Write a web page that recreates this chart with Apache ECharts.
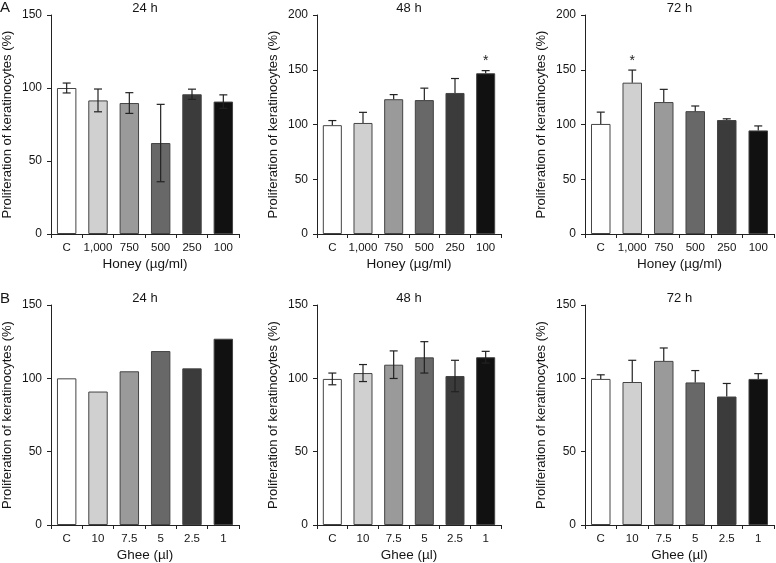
<!DOCTYPE html>
<html>
<head>
<meta charset="utf-8">
<script src="https://cdn.jsdelivr.net/npm/echarts@6/dist/echarts.min.js"></script>
<style>
html,body{margin:0;padding:0;background:#fff;}
#c{width:776px;height:563px;}
</style>
</head>
<body>
<div id="c"></div>
<script>
// ---- data ----
const honeyCats = ['C', '1,000', '750', '500', '250', '100'];
const gheeCats = ['C', '10', '7.5', '5', '2.5', '1'];
const panelTitles = ['24 h', '48 h', '72 h'];
const honeyAxisName = 'Honey (\u00b5g/ml)';
const gheeAxisName = 'Ghee (\u00b5l)';
const yAxisName = 'Proliferation of keratinocytes (%)';

const honey24 = [100, 91.5, 89.7, 62.3, 95.7, 90.7];
const honey24Err = [3.4, 7.8, 7.1, 26.5, 3.5, 4.6];
const honey48 = [99.4, 101.4, 123.1, 122.3, 128.8, 146.8];
const honey48Err = [4.2, 9.7, 4.2, 10.9, 13.2, 2.4];
const honey72 = [100.5, 138.2, 120.5, 112.2, 104.1, 94.6];
const honey72Err = [10.8, 11.5, 11.6, 4.7, 1.1, 4.1];
const ghee24 = [100, 91, 104.8, 118.6, 106.8, 127];
const ghee48 = [99.6, 103.6, 109.3, 114.3, 101.6, 114.4];
const ghee48Err = [4, 5.8, 9.4, 10.7, 10.7, 4];
const ghee72 = [99.6, 97.5, 111.9, 97.2, 87.6, 99.6];
const ghee72Err = [2.8, 14.8, 8.8, 8.1, 8.9, 3.6];

const honeyYMax = [150, 200, 200];
const gheeYMax = [150, 150, 150];
const honey48Sig = [0, 0, 0, 0, 0, 1];
const honey72Sig = [0, 1, 0, 0, 0, 0];

// ---- style ----
const barColors = ['#ffffff', '#d0d0d0', '#9a9a9a', '#686868', '#3b3b3b', '#111111'];
const font = 'Liberation Sans, Arial, sans-serif';
const textColor = '#151515';

const panels = [
  {cats: honeyCats, vals: honey24, err: honey24Err, both: true, sig: null, max: honeyYMax[0], name: honeyAxisName, title: panelTitles[0], left: 51, top: 15, width: 188, height: 219},
  {cats: honeyCats, vals: honey48, err: honey48Err, both: false, sig: honey48Sig, max: honeyYMax[1], name: honeyAxisName, title: panelTitles[1], left: 317, top: 15, width: 184, height: 219},
  {cats: honeyCats, vals: honey72, err: honey72Err, both: false, sig: honey72Sig, max: honeyYMax[2], name: honeyAxisName, title: panelTitles[2], left: 585, top: 15, width: 189, height: 219},
  {cats: gheeCats, vals: ghee24, err: null, both: false, sig: null, max: gheeYMax[0], name: gheeAxisName, title: panelTitles[0], left: 51, top: 305, width: 188, height: 220},
  {cats: gheeCats, vals: ghee48, err: ghee48Err, both: true, sig: null, max: gheeYMax[1], name: gheeAxisName, title: panelTitles[1], left: 317, top: 305, width: 184, height: 220},
  {cats: gheeCats, vals: ghee72, err: ghee72Err, both: false, sig: null, max: gheeYMax[2], name: gheeAxisName, title: panelTitles[2], left: 585, top: 305, width: 189, height: 220}
];

const grid = [], xAxis = [], yAxis = [], series = [], title = [];

panels.forEach((p, k) => {
  grid.push({left: p.left, top: p.top, width: p.width, height: p.height, containLabel: false});
  title.push({text: p.title, left: p.left + p.width / 2, top: p.top - 13, textAlign: 'center', padding: 0,
    textStyle: {fontFamily: font, fontSize: 13, fontWeight: 'normal', color: textColor}});
  xAxis.push({
    type: 'category', gridIndex: k, data: p.cats,
    name: p.name, nameLocation: 'middle', nameGap: 23,
    nameTextStyle: {fontFamily: font, fontSize: 13.5, color: textColor},
    axisLine: {lineStyle: {color: '#222', width: 1}},
    axisTick: {show: true, alignWithLabel: false, length: 4, lineStyle: {color: '#222'}},
    axisLabel: {fontFamily: font, fontSize: 11.5, color: textColor, margin: 8, interval: 0}
  });
  yAxis.push({
    type: 'value', gridIndex: k, min: 0, max: p.max, interval: 50,
    name: yAxisName, nameLocation: 'middle', nameRotate: 90, nameGap: 37,
    nameTextStyle: {fontFamily: font, fontSize: 13, color: textColor},
    axisLine: {show: true, lineStyle: {color: '#222', width: 1}},
    axisTick: {show: true, length: 4, lineStyle: {color: '#222'}},
    axisLabel: {fontFamily: font, fontSize: 12, color: textColor, margin: 9},
    splitLine: {show: false}
  });
  series.push({
    type: 'bar', xAxisIndex: k, yAxisIndex: k, data: p.vals,
    barCategoryGap: '38%',
    itemStyle: {color: (q) => barColors[q.dataIndex], borderColor: '#444', borderWidth: 1},
    z: 2, silent: true
  });
  if (p.err) {
    const rows = p.vals.map((v, i) => [i, v, p.err[i], p.sig ? p.sig[i] : 0]);
    const both = p.both;
    series.push({
      type: 'custom', xAxisIndex: k, yAxisIndex: k, data: rows, z: 3, silent: true,
      encode: {x: 0, y: 1},
      renderItem: function (params, api) {
        const i = api.value(0), v = api.value(1), e = api.value(2), s = api.value(3);
        const top = api.coord([i, v + e]);
        const mid = api.coord([i, v]);
        const bot = api.coord([i, v - e]);
        const cw = 4;
        const st = {stroke: '#222', lineWidth: 1.2};
        const ch = [
          {type: 'line', shape: {x1: top[0], y1: top[1], x2: top[0], y2: both ? bot[1] : mid[1]}, style: st},
          {type: 'line', shape: {x1: top[0] - cw, y1: top[1], x2: top[0] + cw, y2: top[1]}, style: st}
        ];
        if (both) ch.push({type: 'line', shape: {x1: bot[0] - cw, y1: bot[1], x2: bot[0] + cw, y2: bot[1]}, style: st});
        if (s) ch.push({type: 'text', style: {text: '*', x: top[0], y: top[1] - 2, textAlign: 'center', textVerticalAlign: 'bottom', fontFamily: font, fontSize: 14, fill: '#222'}});
        return {type: 'group', children: ch};
      }
    });
  }
});

title.push({text: 'A', left: 0, top: 0, padding: 0, textStyle: {fontFamily: font, fontSize: 15, fontWeight: 'normal', color: textColor}});
title.push({text: 'B', left: 0, top: 291, padding: 0, textStyle: {fontFamily: font, fontSize: 15, fontWeight: 'normal', color: textColor}});

const chart = echarts.init(document.getElementById('c'), null, {renderer: 'canvas'});
chart.setOption({animation: false, backgroundColor: '#fff', title, grid, xAxis, yAxis, series});
</script>
</body>
</html>
